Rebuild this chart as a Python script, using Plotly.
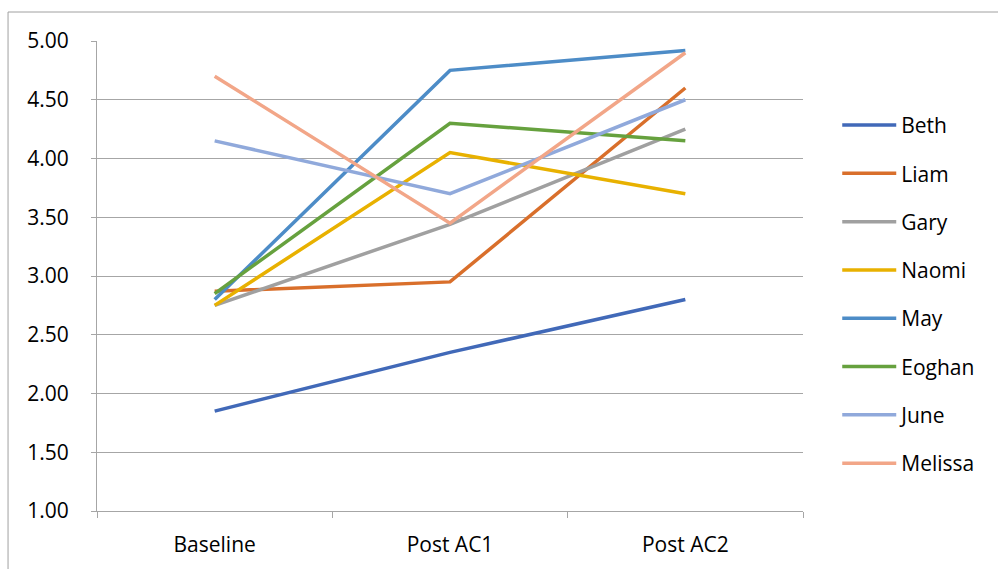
import plotly.graph_objects as go

# Assessment points on the horizontal axis
stages = ["Baseline", "Post AC1", "Post AC2"]

# Scores per participant at each stage
beth = [1.85, 2.35, 2.80]
liam = [2.87, 2.95, 4.60]
gary = [2.75, 3.44, 4.25]
naomi = [2.75, 4.05, 3.70]
may = [2.80, 4.75, 4.92]
eoghan = [2.85, 4.30, 4.15]
june = [4.15, 3.70, 4.50]
melissa = [4.70, 3.45, 4.90]

names = ["Beth", "Liam", "Gary", "Naomi", "May", "Eoghan", "June", "Melissa"]
series = [beth, liam, gary, naomi, may, eoghan, june, melissa]
colors = ["#4169B8", "#D96F2B", "#A0A0A0", "#E8B100",
          "#4D8CC7", "#66A13E", "#90A9DB", "#F2A688"]

FONT = "Open Sans"
GRID = "#A6A6A6"

fig = go.Figure()
for name, vals, col in zip(names, series, colors):
    fig.add_trace(go.Scatter(
        x=stages, y=vals, name=name, mode="lines",
        line=dict(color=col, width=3.5),
        legendgroup=name,
    ))

fig.update_layout(
    width=998, height=569,
    margin=dict(l=97, r=195, t=41, b=58),
    paper_bgcolor="white", plot_bgcolor="white",
    font=dict(family=FONT, size=21, color="#000000"),
    showlegend=True,
    legend=dict(
        x=1.0485, y=0.864, xanchor="left", yanchor="top",
        font=dict(family=FONT, size=21, color="#000000"),
        tracegroupgap=18, itemwidth=54,
        bgcolor="rgba(0,0,0,0)",
    ),
    xaxis=dict(
        type="category", range=[-0.5, 2.5],
        showgrid=False, showline=True, linecolor=GRID, linewidth=1,
        ticks="outside", tickson="boundaries", ticklen=6,
        tickcolor=GRID, ticklabelstandoff=15,
        tickfont=dict(family=FONT, size=21),
    ),
    yaxis=dict(
        range=[1, 5], dtick=0.5, tick0=1, tickformat=".2f",
        showgrid=True, gridcolor=GRID, gridwidth=1,
        showline=True, linecolor=GRID, linewidth=1,
        ticks="outside", ticklen=5, tickcolor=GRID,
        ticklabelstandoff=18, zeroline=False,
        tickfont=dict(family=FONT, size=21),
    ),
    shapes=[dict(
        type="rect", xref="paper", yref="paper",
        x0=-0.126, x1=1.285, y0=-0.14, y1=1.0617,
        line=dict(color="#A0A0A0", width=1), layer="below",
    )],
)

fig.write_html("out.html")
